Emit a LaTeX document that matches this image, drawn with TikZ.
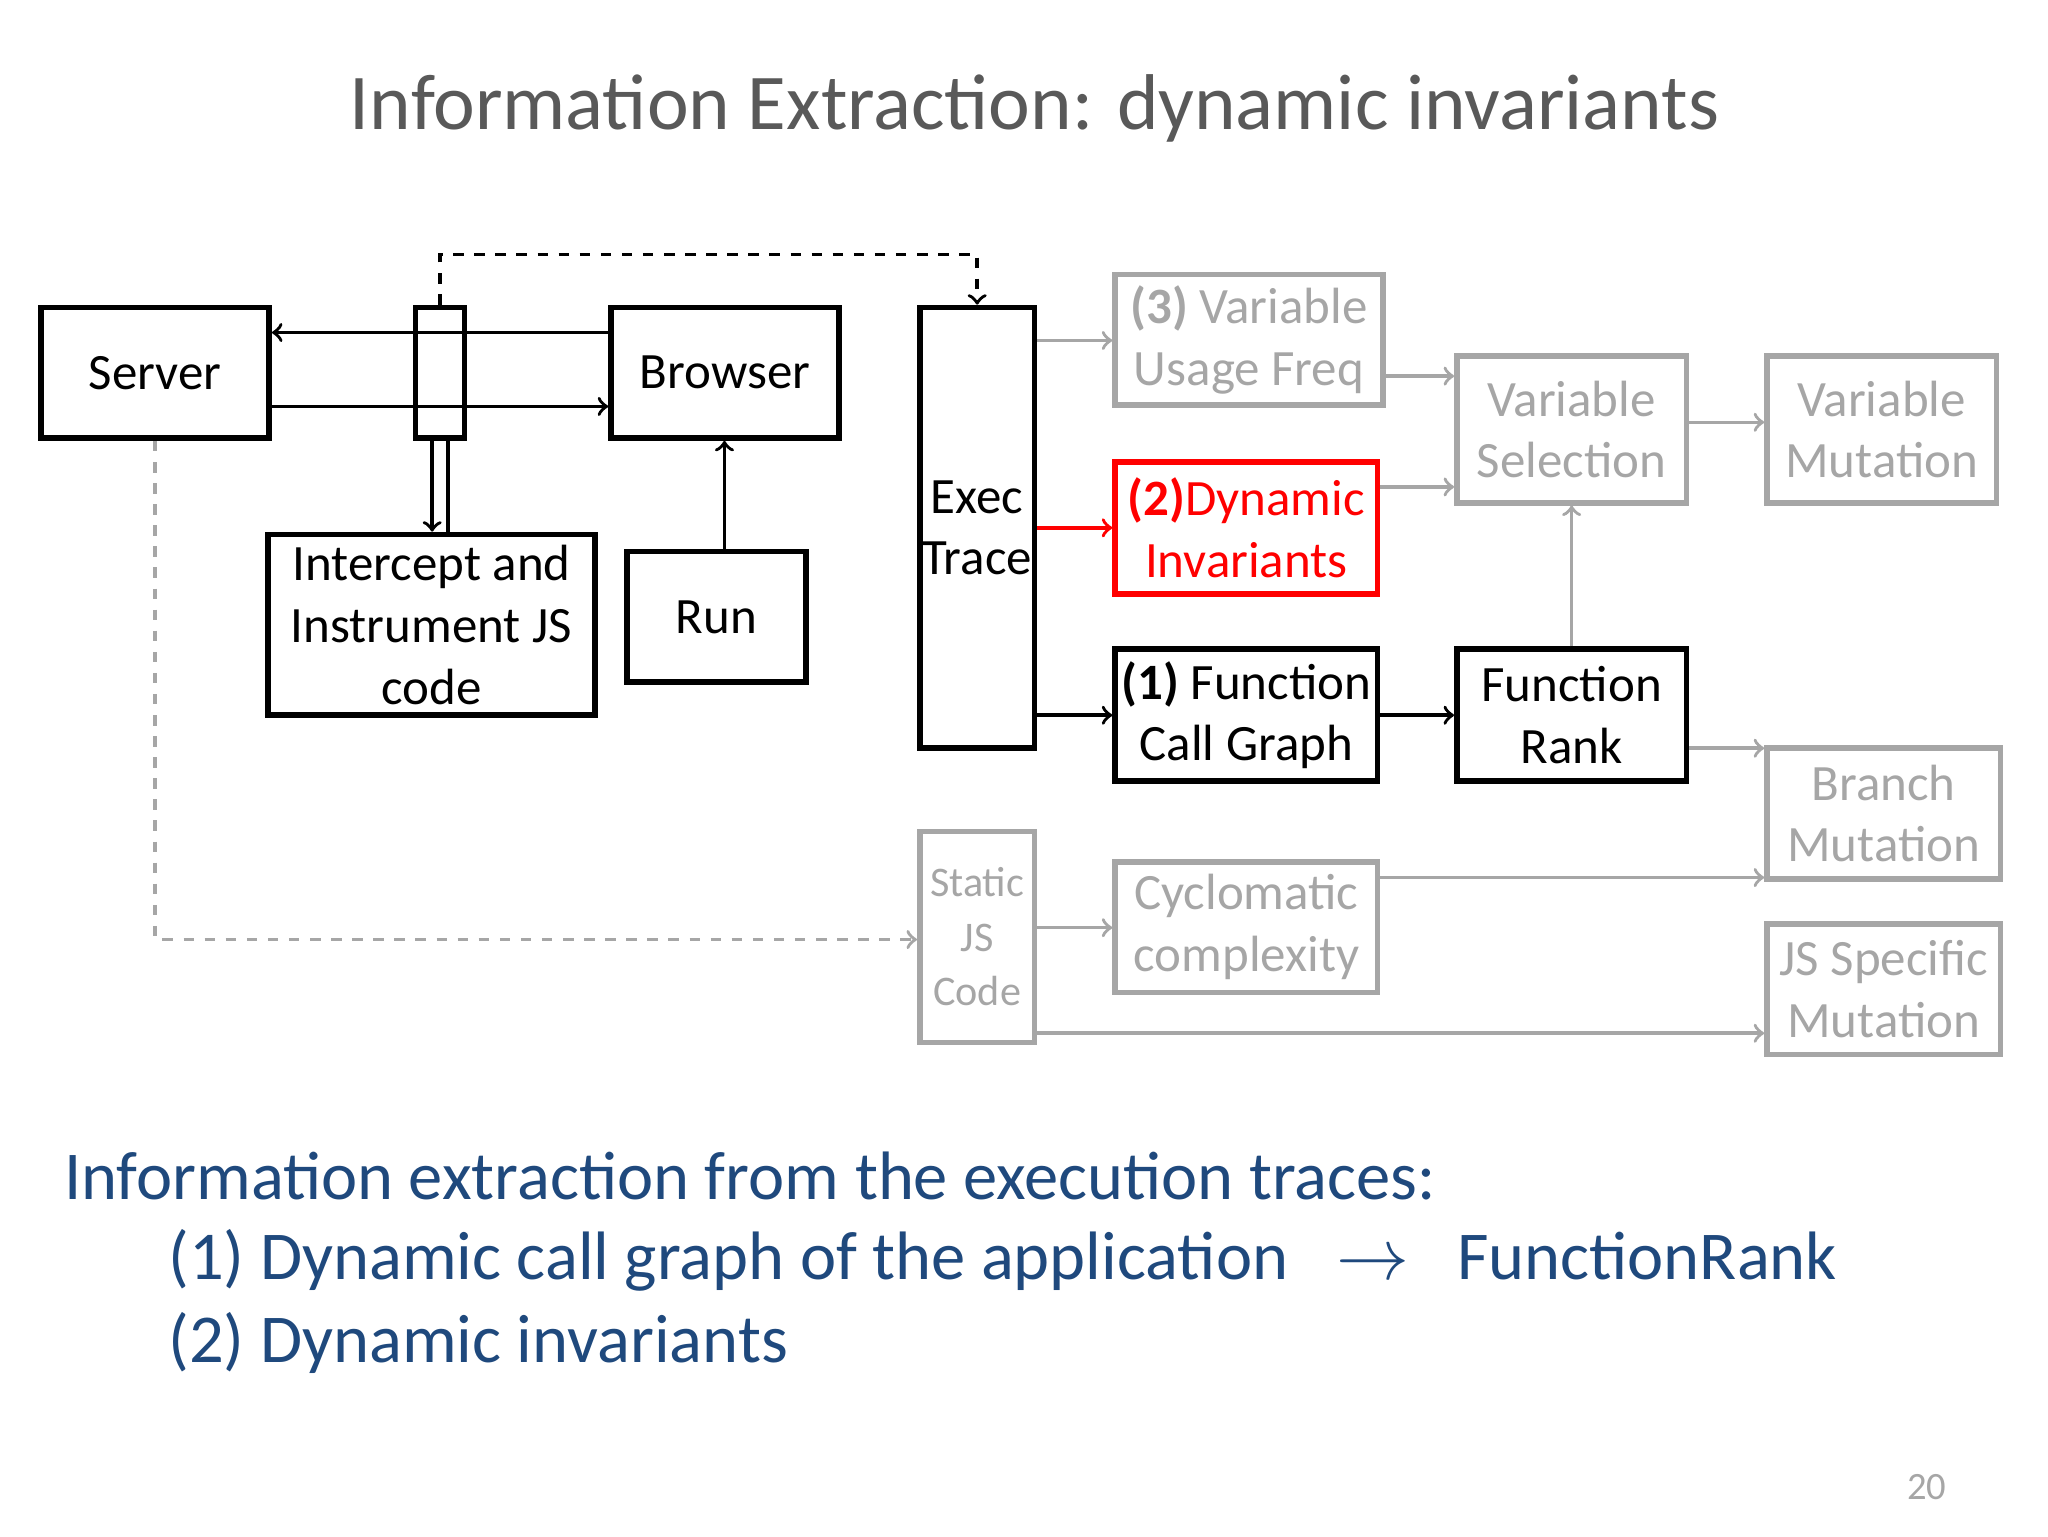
\documentclass[tikz,border=0pt]{standalone}
\usepackage{fontspec}
\setmainfont{Carlito}
\usetikzlibrary{arrows}
\definecolor{titlegray}{RGB}{89,89,89}
\definecolor{boxgray}{RGB}{166,166,166}
\definecolor{textblue}{RGB}{31,73,125}
\tikzset{
  box/.style={draw, line width=1.6pt, rectangle, inner sep=0pt, align=center,
    font=\fontsize{14.5}{17.6}\selectfont},
  graybox/.style={box, draw=boxgray, text=boxgray},
  redbox/.style={box, draw=red},
  size/.style 2 args={minimum width=#1*0.013196cm, minimum height=#2*0.013196cm},
  link/.style={->, line width=1pt},
  graylink/.style={link, draw=boxgray},
  slide/.style={anchor=west, inner sep=0pt, text=textblue, font=\fontsize{19.5}{24}\selectfont}
}
\begin{document}
\begin{tikzpicture}[x=0.013196cm, y=-0.013196cm, >=to]
  \useasboundingbox (0,0) rectangle (1552,1164);
  \node [text=titlegray, font=\fontsize{22.5}{27}\selectfont] (title) at (784,82) {Information Extraction: dynamic invariants};
  % left part
  \node [box, size={173}{99}] (server) at (117.5,282.5) {Server};
  \node [box, size={37}{99}] (proxy) at (333.5,282.5) {};
  \node [box, size={173}{99}] (browser) at (549.5,282.5) {Browser};
  \node [box, size={248}{137}] (intercept) at (327,473.5) {Intercept and\\Instrument JS\\code};
  \node [box, size={136}{99}] (run) at (543,467.5) {Run};
  \node [box, size={87}{334}] (exec) at (740.5,400) {Exec\\Trace};
  % middle column
  \node [graybox, size={203}{99}] (usage) at (946.5,257.5) {\textbf{(3)} Variable\\Usage Freq};
  \node [redbox, size={199}{100}, text=red] (invar) at (944.5,400) {\textbf{(2)}Dynamic\\Invariants};
  \node [box, size={199}{100}] (callgraph) at (944.5,542) {\textbf{(1)} Function\\Call Graph};
  \node [graybox, size={87}{160}, font=\fontsize{12}{15.5}\selectfont] (static) at (740.5,710) {Static\\JS\\Code};
  \node [graybox, size={199}{99}] (cyclo) at (944.5,702.5) {Cyclomatic\\complexity};
  % right columns
  \node [graybox, size={174}{111}] (varsel) at (1191,325.5) {Variable\\Selection};
  \node [graybox, size={174}{111}] (varmut) at (1426,325.5) {Variable\\Mutation};
  \node [box, size={174}{100}] (frank) at (1191,542) {Function\\Rank};
  \node [graybox, size={177}{99}] (branch) at (1427.5,616.5) {Branch\\Mutation};
  \node [graybox, size={177}{99}] (jsmut) at (1427.5,749.5) {JS Specific\\Mutation};
  % connectors
  \draw [link] (browser.west |- 0,252) -- (server.east |- 0,252);
  \draw [link] (server.east |- 0,308) -- (browser.west |- 0,308);
  \draw [link] ([xshift=-6*0.013196cm]proxy.south) -- ([xshift=-6*0.013196cm]proxy.south |- intercept.north);
  \draw [line width=1pt] ([xshift=6*0.013196cm]proxy.south) -- ([xshift=6*0.013196cm]proxy.south |- intercept.north);
  \draw [link, dashed] (proxy.north) -- ++(0,-38) -| (exec.north);
  \draw [link] (run.north -| 549,0) -- (browser.south -| 549,0);
  \draw [graylink] (exec.east |- 0,258) -- (usage.west |- 0,258);
  \draw [link, draw=red] (exec.east |- invar.west) -- (invar.west);
  \draw [link] (exec.east |- callgraph.west) -- (callgraph.west);
  \draw [link] (callgraph) -- (frank);
  \draw [graylink] (frank) -- (varsel);
  \draw [graylink] (usage.east |- 0,285) -- (varsel.west |- 0,285);
  \draw [graylink] (invar.east |- 0,369) -- (varsel.west |- 0,369);
  \draw [graylink] (varsel.east |- 0,320) -- (varmut.west |- 0,320);
  \draw [graylink] (frank.east |- 0,567) -- (branch.west |- 0,567);
  \draw [graylink] (cyclo.east |- 0,665) -- (branch.west |- 0,665);
  \draw [graylink] (static.east |- 0,703) -- (cyclo.west |- 0,703);
  \draw [graylink] (static.east |- 0,783) -- (jsmut.west |- 0,783);
  \draw [graylink, dashed] (server.south) |- (static.west |- 0,712);
  % bottom text
  \node [slide] (line1) at (48,891) {Information extraction from the execution traces:};
  \node [slide] (line2) at (127,955) {(1) Dynamic call graph of the application\hspace{0.7em}\textbf{$\rightarrow$}\hspace{0.7em}FunctionRank};
  \node [slide] (line3) at (127,1018) {(2) Dynamic invariants};
  \node [text=boxgray, font=\fontsize{11}{13}\selectfont] (page) at (1460,1127) {20};
\end{tikzpicture}
\end{document}
